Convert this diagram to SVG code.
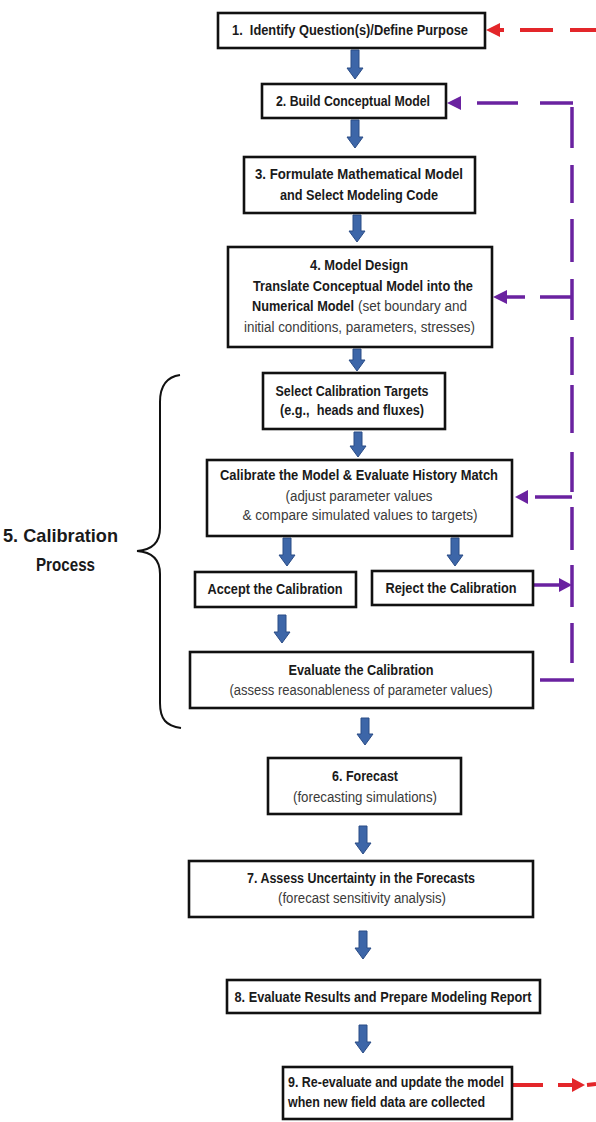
<svg xmlns="http://www.w3.org/2000/svg" width="596" height="1122" viewBox="0 0 596 1122">
<style>
.box{fill:#fff;stroke:#111;stroke-width:2.6}
.b{font-family:"Liberation Sans",Arial,sans-serif;font-weight:bold;font-size:14px;fill:#1a1a1a}
.n{font-family:"Liberation Sans",Arial,sans-serif;font-weight:normal;font-size:14px;fill:#3a3a3a}
.m{text-anchor:middle}
.blue{fill:#3d66a8;stroke:#2b4c86;stroke-width:1}
.pur{fill:none;stroke:#6a22a0;stroke-width:3.5}
.purf{fill:#6a22a0}
.red{fill:none;stroke:#e3262a;stroke-width:4}
.redf{fill:#e3262a}
.brace{fill:none;stroke:#111;stroke-width:2}
.lbl{font-family:"Liberation Sans",Arial,sans-serif;font-weight:bold;font-size:19px;fill:#1a1a1a}
</style>
<rect width="596" height="1122" fill="#fff"/>

<g id="connectors">
  <g id="blue-arrows">
    <path class="blue" d="M351,50H359V68H363L355,79L347,68H351Z"/>
    <path class="blue" d="M351,120H359V137H363L355,148L347,137H351Z"/>
    <path class="blue" d="M353,215H361V231H365L357,242L349,231H353Z"/>
    <path class="blue" d="M353,349H361V360H365L357,371L349,360H353Z"/>
    <path class="blue" d="M354,432H362V446H366L358,457L350,446H354Z"/>
    <path class="blue" d="M283,538H291V555H295L287,566L279,555H283Z"/>
    <path class="blue" d="M451,538H459V555H463L455,566L447,555H451Z"/>
    <path class="blue" d="M278,615H286V632H290L282,643L274,632H278Z"/>
    <path class="blue" d="M361,718H369V734H373L365,745L357,734H361Z"/>
    <path class="blue" d="M359,826H367V843H371L363,854L355,843H359Z"/>
    <path class="blue" d="M359,931H367V948H371L363,959L355,948H359Z"/>
    <path class="blue" d="M359,1025H367V1042H371L363,1053L355,1042H359Z"/>
  </g>
  <g id="purple-feedback">
    <path class="pur" d="M572,107V148M572,165V203M572,219V262M572,279V320M572,337V375M572,385V433M572,452V492M572,507V550M572,565V607M572,623V663"/>
    <path class="pur" d="M540,680H574"/>
    <polygon class="purf" points="447,103 461,96 461,110"/>
    <path class="pur" d="M477,103H518M540,103H573"/>
    <polygon class="purf" points="493,297 507,290 507,304"/>
    <path class="pur" d="M506,297H525M540,297H572"/>
    <polygon class="purf" points="515,497 528,490 528,504"/>
    <path class="pur" d="M535,497H572"/>
    <path class="pur" d="M533,585H561"/>
    <polygon class="purf" points="572,585 559,578 559,592"/>
  </g>
  <g id="red-feedback">
    <polygon class="redf" points="486,30 500,23 500,37"/>
    <path class="red" d="M499,30H504M520,30H553M570,30H596"/>
    <path class="red" d="M513,1085H543M558,1085H574M587,1085L596,1084"/>
    <polygon class="redf" points="585,1085 572,1078 572,1092"/>
  </g>
</g>

<g id="n1">
  <rect class="box" x="218" y="13" width="267" height="35"/>
  <text class="b m" x="350" y="35" textLength="236" lengthAdjust="spacingAndGlyphs">1.&#160; Identify Question(s)/Define Purpose</text>
</g>
<g id="n2">
  <rect class="box" x="262" y="84" width="184" height="34"/>
  <text class="b m" x="353" y="106" textLength="154" lengthAdjust="spacingAndGlyphs">2. Build Conceptual Model</text>
</g>
<g id="n3">
  <rect class="box" x="244" y="157" width="231" height="56"/>
  <text class="b m" x="359" y="179" textLength="208" lengthAdjust="spacingAndGlyphs">3. Formulate Mathematical Model</text>
  <text class="b m" x="359" y="200" textLength="158" lengthAdjust="spacingAndGlyphs">and Select Modeling Code</text>
</g>
<g id="n4">
  <rect class="box" x="228" y="247" width="264" height="100"/>
  <text class="b m" x="359" y="270" textLength="98" lengthAdjust="spacingAndGlyphs">4. Model Design</text>
  <text class="b" x="253" y="291" textLength="220" lengthAdjust="spacingAndGlyphs">Translate Conceptual Model into the</text>
  <text class="b" x="252" y="311" textLength="102" lengthAdjust="spacingAndGlyphs">Numerical Model</text>
  <text class="n" x="358" y="311" textLength="109" lengthAdjust="spacingAndGlyphs">(set boundary and</text>
  <text class="n" x="244" y="332" textLength="231" lengthAdjust="spacingAndGlyphs">initial conditions, parameters, stresses)</text>
</g>
<g id="n5a">
  <rect class="box" x="263" y="373" width="182" height="56"/>
  <text class="b m" x="352" y="396" textLength="153" lengthAdjust="spacingAndGlyphs">Select Calibration Targets</text>
  <text class="b m" x="352" y="415" textLength="144" lengthAdjust="spacingAndGlyphs">(e.g.,&#160; heads and fluxes)</text>
</g>
<g id="n5b">
  <rect class="box" x="207" y="460" width="305" height="76"/>
  <text class="b m" x="359" y="480" textLength="278" lengthAdjust="spacingAndGlyphs">Calibrate the Model &amp; Evaluate History Match</text>
  <text class="n m" x="359" y="501" textLength="147" lengthAdjust="spacingAndGlyphs">(adjust parameter values</text>
  <text class="n m" x="360" y="520" textLength="235" lengthAdjust="spacingAndGlyphs">&amp; compare simulated values to targets)</text>
</g>
<g id="n5c">
  <rect class="box" x="195" y="572" width="161" height="35"/>
  <text class="b m" x="275" y="594" textLength="135" lengthAdjust="spacingAndGlyphs">Accept the Calibration</text>
</g>
<g id="n5d">
  <rect class="box" x="372" y="571" width="161" height="34"/>
  <text class="b m" x="451" y="593" textLength="131" lengthAdjust="spacingAndGlyphs">Reject the Calibration</text>
</g>
<g id="n5e">
  <rect class="box" x="190" y="652" width="343" height="56"/>
  <text class="b m" x="361" y="675" textLength="145" lengthAdjust="spacingAndGlyphs">Evaluate the Calibration</text>
  <text class="n m" x="361" y="695" textLength="263" lengthAdjust="spacingAndGlyphs">(assess reasonableness of parameter values)</text>
</g>
<g id="n6">
  <rect class="box" x="268" y="758" width="193" height="56"/>
  <text class="b m" x="365" y="781" textLength="66" lengthAdjust="spacingAndGlyphs">6. Forecast</text>
  <text class="n m" x="365" y="802" textLength="144" lengthAdjust="spacingAndGlyphs">(forecasting simulations)</text>
</g>
<g id="n7">
  <rect class="box" x="189" y="861" width="344" height="56"/>
  <text class="b m" x="361" y="883" textLength="228" lengthAdjust="spacingAndGlyphs">7. Assess Uncertainty in the Forecasts</text>
  <text class="n m" x="362" y="903" textLength="168" lengthAdjust="spacingAndGlyphs">(forecast sensitivity analysis)</text>
</g>
<g id="n8">
  <rect class="box" x="227" y="980" width="313" height="33"/>
  <text class="b m" x="383" y="1002" textLength="297" lengthAdjust="spacingAndGlyphs">8. Evaluate Results and Prepare Modeling Report</text>
</g>
<g id="n9">
  <rect class="box" x="283" y="1067" width="229" height="52"/>
  <text class="b" x="288" y="1087" textLength="216" lengthAdjust="spacingAndGlyphs">9. Re-evaluate and update the model</text>
  <text class="b" x="288" y="1107" textLength="197" lengthAdjust="spacingAndGlyphs">when new field data are collected</text>
</g>
<g id="calibration-label">
  <path class="brace" d="M180,375C166,377 160,386 160,402L160,528C160,543 152,550 137,551C152,552 160,560 160,574L160,703C160,719 166,726 181,728"/>
  <text class="lbl" x="3" y="542" textLength="115" lengthAdjust="spacingAndGlyphs">5. Calibration</text>
  <text class="lbl" x="36" y="571" textLength="59" lengthAdjust="spacingAndGlyphs">Process</text>
</g>
</svg>
